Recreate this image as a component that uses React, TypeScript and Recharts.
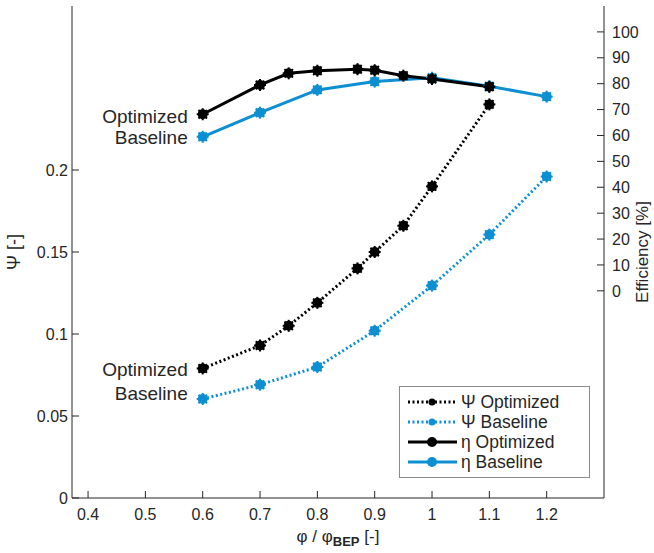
import React from "react";
import { LineChart, Line, XAxis, YAxis } from "recharts";

// flow coefficient (phi / phi_BEP) sample points
const phiOptimized = [0.6, 0.7, 0.75, 0.8, 0.87, 0.9, 0.95, 1.0, 1.1];
const phiBaseline = [0.6, 0.7, 0.8, 0.9, 1.0, 1.1, 1.2];

// head coefficient Psi [-]
const psiOptimized = [0.079, 0.093, 0.105, 0.119, 0.14, 0.15, 0.166, 0.19, 0.24];
const psiBaseline = [0.0604, 0.0691, 0.0799, 0.102, 0.1295, 0.1606, 0.196];

// efficiency [%]
const etaOptimized = [68.2, 79.5, 84.0, 85.0, 85.6, 85.2, 83.1, 81.8, 78.8];
const etaBaseline = [59.5, 68.8, 77.6, 80.8, 82.3, 79.0, 75.0];

const xTicks = [0.4, 0.5, 0.6, 0.7, 0.8, 0.9, 1, 1.1, 1.2];
const psiTicks = [0, 0.05, 0.1, 0.15, 0.2];
const etaTicks = [0, 10, 20, 30, 40, 50, 60, 70, 80, 90, 100];

const BLACK = "#000000";
const BLUE = "#0d8fd2";
const INK = "#262626";
const FONT = "'Liberation Sans', Arial, sans-serif";

const toRows = (xs: number[], ys: number[]) => xs.map((x, i) => ({ x, y: ys[i] }));

const psiOptData = toRows(phiOptimized, psiOptimized);
const psiBaseData = toRows(phiBaseline, psiBaseline);
const etaOptData = toRows(phiOptimized, etaOptimized);
const etaBaseData = toRows(phiBaseline, etaBaseline);

const StarDot = (color: string) => (props: any) => {
  const { cx, cy, index } = props;
  if (cx == null || cy == null) return <g key={index} />;
  const r = 6;
  const spokes = [0, 45, 90, 135].map((a) => {
    const rad = (a * Math.PI) / 180;
    return (
      <line
        key={a}
        x1={cx - r * Math.cos(rad)}
        y1={cy - r * Math.sin(rad)}
        x2={cx + r * Math.cos(rad)}
        y2={cy + r * Math.sin(rad)}
        stroke={color}
        strokeWidth={2}
      />
    );
  });
  return (
    <g key={index}>
      <circle cx={cx} cy={cy} r={5} fill={color} />
      {spokes}
    </g>
  );
};

// name label in front of the first point of each curve
const firstLabel = (text: string, dy: number) => (props: any) => {
  const { x, y, index } = props;
  if (index !== 0) return null;
  return (
    <text
      x={x - 15}
      y={y + dy}
      textAnchor="end"
      dominantBaseline="central"
      fontSize={19}
      fontFamily={FONT}
      fill={INK}
    >
      {text}
    </text>
  );
};

const legendItems = [
  { label: "Ψ Optimized", color: BLACK, dash: "2 2.5" },
  { label: "Ψ Baseline", color: BLUE, dash: "2 2.5" },
  { label: "η Optimized", color: BLACK, dash: undefined },
  { label: "η Baseline", color: BLUE, dash: undefined },
];

const LegendBox = () => (
  <div
    style={{
      position: "absolute",
      left: 399,
      top: 386,
      width: 191,
      height: 92,
      boxSizing: "border-box",
      border: "1px solid #8a8a8a",
      background: "#fff",
      paddingTop: 5,
      fontFamily: FONT,
      fontSize: 17.5,
      color: INK,
    }}
  >
    {legendItems.map((it) => (
      <div key={it.label} style={{ display: "flex", alignItems: "center", height: 20 }}>
        <svg width={60} height={20}>
          <line x1={8} y1={10} x2={57} y2={10} stroke={it.color} strokeWidth={3} strokeDasharray={it.dash} />
          <circle cx={32} cy={10} r={it.dash ? 3.5 : 5} fill={it.color} />
        </svg>
        <span style={{ marginLeft: 1, lineHeight: "20px" }}>{it.label}</span>
      </div>
    ))}
  </div>
);

const noTick = () => <g />;

export default function App() {
  const tickStyle = { fontSize: 16, fontFamily: FONT, fill: INK };
  return (
    <div style={{ position: "absolute", left: 0, top: 0, width: 654, height: 553, background: "#fff" }}>
      <LineChart width={654} height={553} margin={{ top: 6, right: 0, bottom: 15, left: 0 }}>
        <XAxis
          xAxisId="b"
          type="number"
          dataKey="x"
          domain={[0.372, 1.3]}
          ticks={xTicks}
          interval={0}
          allowDataOverflow
          height={40}
          tickSize={-7}
          tickMargin={18}
          tick={tickStyle}
          stroke={INK}
        />
        <XAxis
          xAxisId="t"
          orientation="top"
          type="number"
          dataKey="x"
          domain={[0.372, 1.3]}
          ticks={xTicks}
          interval={0}
          allowDataOverflow
          height={0}
          tickSize={-7}
          tick={noTick}
          stroke={INK}
        />
        <YAxis
          yAxisId="psi"
          type="number"
          domain={[0, 0.3]}
          ticks={psiTicks}
          interval={0}
          allowDataOverflow
          width={72}
          tickSize={-7}
          tickMargin={11}
          tick={tickStyle}
          stroke={INK}
        />
        <YAxis
          yAxisId="eta"
          orientation="right"
          type="number"
          domain={[-80, 110]}
          ticks={etaTicks}
          interval={0}
          allowDataOverflow
          width={50}
          tickSize={-7}
          tickMargin={15}
          tick={tickStyle}
          stroke={INK}
        />
        <Line
          data={etaBaseData}
          xAxisId="b"
          yAxisId="eta"
          dataKey="y"
          stroke={BLUE}
          strokeWidth={3}
          dot={StarDot(BLUE)}
          label={firstLabel("Baseline", 1)}
          isAnimationActive={false}
        />
        <Line
          data={etaOptData}
          xAxisId="b"
          yAxisId="eta"
          dataKey="y"
          stroke={BLACK}
          strokeWidth={3}
          dot={StarDot(BLACK)}
          label={firstLabel("Optimized", 2)}
          isAnimationActive={false}
        />
        <Line
          data={psiBaseData}
          xAxisId="b"
          yAxisId="psi"
          dataKey="y"
          stroke={BLUE}
          strokeWidth={3}
          strokeDasharray="2 2.5"
          dot={StarDot(BLUE)}
          label={firstLabel("Baseline", -5)}
          isAnimationActive={false}
        />
        <Line
          data={psiOptData}
          xAxisId="b"
          yAxisId="psi"
          dataKey="y"
          stroke={BLACK}
          strokeWidth={3}
          strokeDasharray="2 2.5"
          dot={StarDot(BLACK)}
          label={firstLabel("Optimized", 1)}
          isAnimationActive={false}
        />
        <text
          x={14}
          y={252}
          transform="rotate(-90 14 252)"
          textAnchor="middle"
          dominantBaseline="central"
          fontSize={18}
          fontFamily={FONT}
          fill={INK}
        >
          Ψ [-]
        </text>
        <text
          x={642}
          y={252}
          transform="rotate(-90 642 252)"
          textAnchor="middle"
          dominantBaseline="central"
          fontSize={17}
          fontFamily={FONT}
          fill={INK}
        >
          Efficiency [%]
        </text>
        <text x={338} y={536} textAnchor="middle" dominantBaseline="central" fontSize={17} fontFamily={FONT} fill={INK}>
          φ / φ
          <tspan fontSize={13} fontWeight="bold" dy={5}>
            BEP
          </tspan>
          <tspan dy={-5}> [-]</tspan>
        </text>
      </LineChart>
      <LegendBox />
    </div>
  );
}
